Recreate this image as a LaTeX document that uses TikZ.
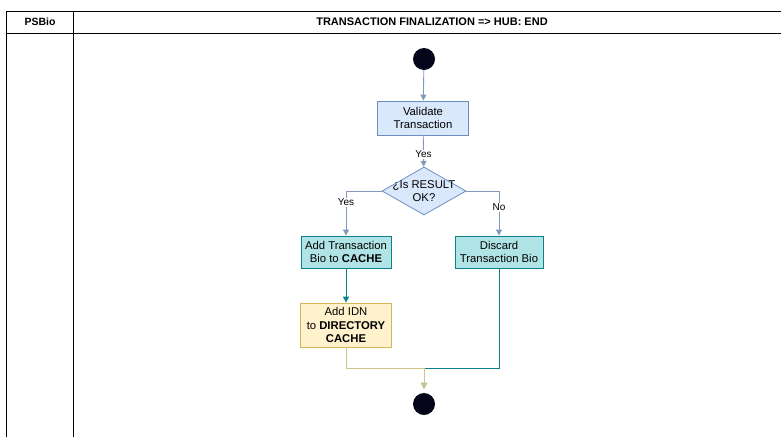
\documentclass[tikz,border=0pt]{standalone}
\usepackage{fontspec}
\setmainfont{Liberation Sans}
\usetikzlibrary{shapes.geometric,arrows.meta}

\definecolor{blueFill}{HTML}{DAE8FC}
\definecolor{blueLine}{HTML}{6C8EBF}
\definecolor{tealFill}{HTML}{B0E3E6}
\definecolor{tealLine}{HTML}{0E8088}
\definecolor{sandFill}{HTML}{FFF2CC}
\definecolor{sandLine}{HTML}{D6B656}
\definecolor{flowBlue}{HTML}{8399B8}
\definecolor{flowSand}{HTML}{CFC48A}
\definecolor{dotInk}{HTML}{05051A}

\tikzset{
  lane/.style={line width=0.9pt, draw=black},
  headtext/.style={font=\fontsize{11}{12}\selectfont\bfseries, inner sep=0pt},
  dot/.style={circle, fill=dotInk, draw=none, minimum size=22pt, inner sep=0pt},
  box/.style={rectangle, draw, line width=0.8pt, align=center, inner sep=0pt,
    font=\fontsize{11.3}{13.5}\selectfont},
  bluebox/.style={box, fill=blueFill, draw=blueLine},
  tealbox/.style={box, fill=tealFill, draw=tealLine},
  sandbox/.style={box, fill=sandFill, draw=sandLine},
  decision/.style={diamond, draw=blueLine, fill=blueFill, line width=0.8pt,
    inner sep=0pt, minimum width=84pt, minimum height=48pt},
  decisiontext/.style={align=center, inner sep=0pt, font=\fontsize{11.3}{13.5}\selectfont},
  flow/.style={line width=0.9pt, -{Triangle[length=6pt,width=6pt]}},
  tag/.style={fill=white, inner sep=1pt, font=\fontsize{10}{11}\selectfont},
}

\begin{document}
\begin{tikzpicture}[x=1pt,y=-1pt]
\useasboundingbox (0,0) rectangle (781,437);

% swimlane frame
\draw[lane] (6,437) -- (6,11) -- (781,11);
\draw[lane] (6,33) -- (781,33);
\draw[lane] (73,11) -- (73,437);
\node[headtext, font=\fontsize{10.5}{12}\selectfont\bfseries] (lanename) at (40,22) {PSBio};
\node[headtext] (lanetitle) at (432,22) {TRANSACTION FINALIZATION => HUB: END};

% activity nodes
\node[dot] (start) at (424,59) {};
\node[bluebox, minimum width=91pt, minimum height=34pt] (validate) at (423,118) {Validate\\Transaction};
\node[decision] (check) at (424,191) {};
\node[decisiontext] (checktext) at (424,191) {¿Is RESULT\\OK?};
\node[tealbox, minimum width=90pt, minimum height=32pt] (addbio) at (346,252) {Add Transaction\\Bio to \textbf{CACHE}};
\node[tealbox, minimum width=88pt, minimum height=32pt] (discard) at (499,252) {Discard\\Transaction Bio};
\node[sandbox, minimum width=91pt, minimum height=44pt] (addidn) at (346,325) {Add IDN\\to \textbf{DIRECTORY}\\\textbf{CACHE}};
\node[dot] (finish) at (424,404) {};
\coordinate (join) at (424,368);

% connectors
\draw[flow, draw=flowBlue, color=flowBlue] (start) -- (validate);
\draw[flow, draw=flowBlue, color=flowBlue] (validate) -- (check)
  node[tag, pos=0.6, text=black] (yes1) {Yes};
\draw[flow, draw=flowBlue, color=flowBlue] (check.west) -| (addbio.north)
  node[tag, pos=0.63, text=black] (yes2) {Yes};
\draw[flow, draw=flowBlue, color=flowBlue] (check.east) -| (discard.north)
  node[tag, pos=0.68, text=black] (no1) {No};
\draw[flow, draw=tealLine, color=tealLine] (addbio) -- (addidn);
\draw[flow, draw=tealLine, color=tealLine, shorten >=4pt] (discard.south) |- (join) -- (finish.north);
\draw[flow, draw=flowSand, color=flowSand, shorten >=4pt] (addidn.south) |- (join) -- (finish.north);
\end{tikzpicture}
\end{document}
